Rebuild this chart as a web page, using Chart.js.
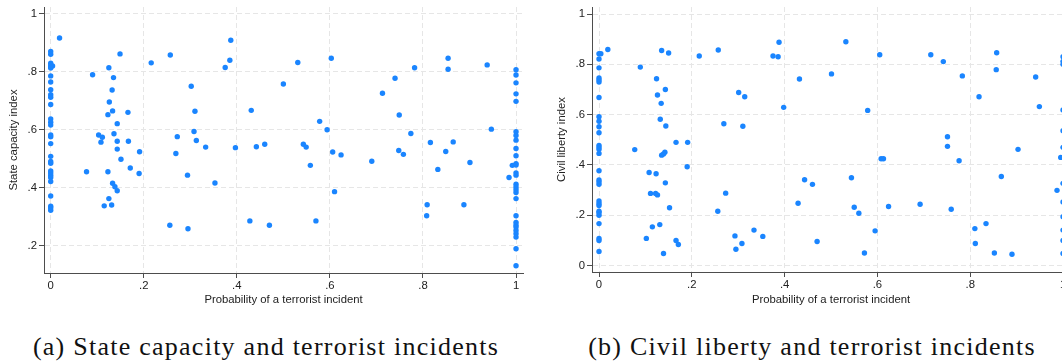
<!DOCTYPE html>
<html><head><meta charset="utf-8">
<script src="https://cdn.jsdelivr.net/npm/chart.js@4/dist/chart.umd.min.js"></script>
<style>
html,body{margin:0;padding:0;overflow:hidden;background:#fff;width:1062px;height:364px;position:relative;}
canvas{position:absolute;top:0;}
#c1{left:0;}
#c2{left:548px;}
.cap{position:absolute;top:331px;height:32px;line-height:32px;font-family:"Liberation Serif","Times New Roman",serif;font-size:26px;letter-spacing:1.25px;color:#111;white-space:nowrap;text-align:center;}
</style></head>
<body>
<canvas id="c1" width="540" height="312"></canvas>
<canvas id="c2" width="540" height="312"></canvas>
<div class="cap" style="left:16px;width:500px">(a) State capacity and terrorist incidents</div>
<div class="cap" style="left:562px;width:500px">(b) Civil liberty and terrorist incidents</div>
<script>
// ---- data ----
const xTickValues = [0, 0.2, 0.4, 0.6, 0.8, 1];
const stateTickValues = [0.2, 0.4, 0.6, 0.8, 1];
const libertyTickValues = [0, 0.2, 0.4, 0.6, 0.8, 1];
const xTitle = "Probability of a terrorist incident";
const stateTitle = "State capacity index";
const libertyTitle = "Civil liberty index";

// State capacity panel: probability (x) and index (y)
const stateX = [
 0,0,0,0,0,0,0,0,0,0,0,0,0,0,0,0,0,0,0,0,0,0,0,0,0,0,0,0,0,0,
 0.019,0.004,
 0.090,0.125,0.135,0.149,0.132,0.126,0.133,0.123,0.166,0.143,0.216,0.257,0.272,
 0.103,0.111,0.108,0.136,0.143,0.143,0.167,0.151,0.191,0.171,0.190,0.077,0.123,0.133,0.138,0.143,0.125,0.115,0.131,0.256,0.269,
 0.387,0.385,0.375,0.302,0.531,0.603,0.500,0.310,0.431,0.578,0.594,0.308,
 0.313,0.333,0.397,0.442,0.460,0.543,0.549,0.606,0.624,0.558,0.294,0.353,0.610,0.428,0.470,0.570,0.295,
 0.782,0.740,0.713,0.854,0.854,0.938,0.749,0.774,0.947,
 0.690,0.748,0.758,0.816,0.865,0.849,0.901,0.832,0.809,0.808,0.888,0.992,0.985,
 1,1,1,1,1,1,1,1,1,1,1,1,1,1,1,1,1,1,1,1,1,1,1,1,1,1,1,1
];
const stateY = [
 0.870,0.861,0.830,0.823,0.818,0.813,0.786,0.765,0.738,0.721,0.712,0.687,0.637,0.626,0.616,0.582,0.576,0.552,0.508,0.490,0.484,0.458,0.451,0.443,0.435,0.421,0.371,0.336,0.330,0.322,
 0.917,0.820,
 0.790,0.814,0.780,0.862,0.737,0.696,0.665,0.652,0.660,0.621,0.831,0.858,0.576,
 0.582,0.574,0.557,0.586,0.560,0.533,0.560,0.498,0.524,0.468,0.449,0.455,0.455,0.415,0.403,0.389,0.362,0.337,0.340,0.270,0.518,
 0.909,0.840,0.815,0.750,0.832,0.847,0.758,0.664,0.667,0.629,0.600,0.594,
 0.563,0.540,0.538,0.541,0.550,0.550,0.540,0.523,0.513,0.477,0.443,0.416,0.386,0.285,0.270,0.285,0.258,
 0.814,0.778,0.726,0.847,0.809,0.824,0.651,0.587,0.602,
 0.491,0.528,0.515,0.556,0.558,0.525,0.487,0.463,0.341,0.303,0.341,0.477,0.435,
 0.807,0.789,0.762,0.724,0.698,0.593,0.580,0.564,0.535,0.510,0.483,0.478,0.451,0.443,0.412,0.402,0.393,0.383,0.362,0.303,0.280,0.271,0.264,0.252,0.241,0.229,0.189,0.130
];

// Civil liberty panel: probability (x) and index (y)
const libertyX = [
 0,0,0,0,0,0,0,0,0,0,0,0,0,0,0,0,0,0,0,0,0,0,0,0,0,0,0,0,0,
 0.004,0.019,0.089,0.124,0.143,0.126,0.134,0.132,0.144,0.135,0.150,0.216,0.257,
 0.077,0.166,0.191,0.135,0.142,0.139,0.190,0.108,0.123,0.143,0.111,0.122,0.126,0.152,0.256,0.115,0.131,0.102,0.166,0.171,0.139,
 0.388,0.375,0.386,0.532,0.605,0.432,0.501,0.301,0.314,0.398,0.579,0.269,0.310,
 0.608,0.613,0.273,0.443,0.460,0.544,0.429,0.550,0.560,0.624,0.293,0.334,0.353,0.308,0.295,0.470,0.595,0.572,
 0.715,0.742,0.857,0.856,0.783,0.941,0.819,0.949,0.751,
 0.751,0.776,0.903,0.867,0.987,0.692,0.759,0.810,0.834,0.811,0.852,0.890,0.995,
 1,1,1,1,1,1,1,1,1,1,1,1
];
const libertyY = [
 0.842,0.821,0.786,0.746,0.738,0.730,0.668,0.592,0.574,0.552,0.528,0.478,0.470,0.462,0.446,0.377,0.340,0.332,0.323,0.257,0.247,0.239,0.216,0.210,0.200,0.167,0.108,0.100,0.056,
 0.842,0.859,0.789,0.743,0.700,0.678,0.645,0.582,0.555,0.855,0.845,0.833,0.857,
 0.461,0.490,0.490,0.439,0.451,0.444,0.393,0.370,0.365,0.329,0.287,0.287,0.281,0.230,0.216,0.154,0.163,0.108,0.100,0.084,0.048,
 0.888,0.833,0.830,0.890,0.838,0.742,0.762,0.688,0.671,0.629,0.617,0.564,0.554,
 0.425,0.425,0.288,0.341,0.323,0.349,0.248,0.232,0.208,0.235,0.118,0.141,0.116,0.088,0.065,0.096,0.138,0.050,
 0.838,0.811,0.846,0.779,0.754,0.750,0.671,0.632,0.512,
 0.474,0.417,0.462,0.354,0.299,0.244,0.224,0.147,0.167,0.088,0.050,0.045,0.430,
 0.830,0.812,0.800,0.619,0.536,0.470,0.327,0.253,0.194,0.141,0.100,0.048
];

// ---- drawing ----
const DOT = '#1a85ff';
const SPINE = '#4d4d4d';
const GRID = '#e6e6e6';
const fmt = v => { const s = (+(+v).toFixed(2)).toString(); return s.replace(/^0\./, '.'); };
const pts = (xs, ys) => xs.map((x, i) => ({x: x, y: ys[i]}));

function makeChart(id, data, yTicks, yTitle, xr, yr, pad, xH) {
  return new Chart(document.getElementById(id), {
    type: 'scatter',
    data: { datasets: [{ data: data, backgroundColor: DOT, borderWidth: 0, pointRadius: 2.7, pointHoverRadius: 2.7 }] },
    options: {
      responsive: false, animation: false, events: [],
      layout: { padding: pad },
      plugins: { legend: { display: false }, tooltip: { enabled: false } },
      scales: {
        x: {
          type: 'linear', min: xr[0], max: xr[1],
          afterBuildTicks: s => { s.ticks = xTickValues.map(v => ({value: v})); },
          afterFit: s => { s.height = xH; s.paddingLeft = 0; s.paddingRight = 0; },
          ticks: { callback: fmt, color: '#222', font: { family: 'Liberation Sans, Arial', size: 11.3 }, padding: 1, maxRotation: 0, autoSkip: false },
          grid: { color: GRID, lineWidth: 1, tickLength: 5, tickColor: SPINE, tickWidth: 1 },
          border: { display: true, color: SPINE, width: 1, dash: [5, 3] },
          title: { display: true, text: xTitle, color: '#222', font: { family: 'Liberation Sans, Arial', size: 11.3 }, padding: { top: 0, bottom: 0 } }
        },
        y: {
          type: 'linear', min: yr[0], max: yr[1],
          afterBuildTicks: s => { s.ticks = yTicks.map(v => ({value: v})); },
          afterFit: s => { s.width = 44; s.paddingTop = 0; s.paddingBottom = 0; },
          ticks: { callback: fmt, color: '#222', font: { family: 'Liberation Sans, Arial', size: 11.3 }, padding: 2, autoSkip: false },
          grid: { color: GRID, lineWidth: 1, tickLength: 5, tickColor: SPINE, tickWidth: 1 },
          border: { display: true, color: SPINE, width: 1, dash: [5, 3] },
          title: { display: true, text: yTitle, color: '#222', font: { family: 'Liberation Sans, Arial', size: 11.3 }, padding: { top: 7.5, bottom: 0 } }
        }
      }
    }
  });
}

makeChart('c1', pts(stateX, stateY), stateTickValues, stateTitle,
  [-0.0144, 1.015], [0.105, 1.024], { top: 7, right: 17, bottom: 5, left: 0 }, 34);
makeChart('c2', pts(libertyX, libertyY), libertyTickValues, libertyTitle,
  [-0.0151, 1.015], [-0.0255, 1.028], { top: 7, right: 18, bottom: 5, left: 0 }, 35);
</script>
</body></html>
